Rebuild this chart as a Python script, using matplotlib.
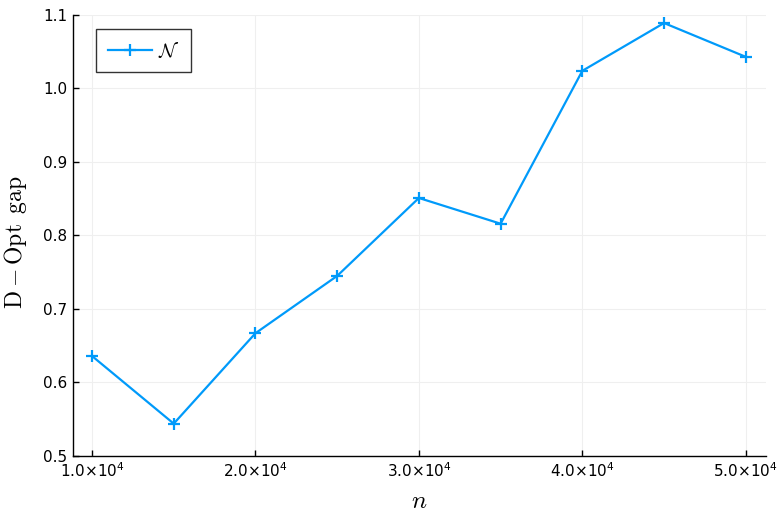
import matplotlib
matplotlib.use("Agg")
import matplotlib.pyplot as plt
import numpy as np

n_values = [10000, 15000, 20000, 25000, 30000, 35000, 40000, 45000, 50000]
gap_values = [0.636, 0.544, 0.667, 0.745, 0.851, 0.816, 1.024, 1.089, 1.043]
x_ticks = [10000, 20000, 30000, 40000, 50000]
x_tick_labels = [r"1.0$\times$10$^{4}$", r"2.0$\times$10$^{4}$", r"3.0$\times$10$^{4}$",
                 r"4.0$\times$10$^{4}$", r"5.0$\times$10$^{4}$"]
y_ticks = [0.5, 0.6, 0.7, 0.8, 0.9, 1.0, 1.1]

plt.rcParams['mathtext.fontset'] = 'dejavusans'
fig = plt.figure(figsize=(7.81, 5.21), dpi=100)
ax = fig.add_axes([0.0935, 0.1248, 0.887, 0.8465])

color = '#009AFA'
ax.plot(n_values, gap_values, color=color, lw=1.6, marker='+', ms=9, mew=1.6,
        label=r'$\mathcal{N}$')

ax.set_xlim(8838, 51223)
ax.set_ylim(0.5, 1.1)
ax.set_xticks(x_ticks)
ax.set_xticklabels(x_tick_labels)
ax.set_yticks(y_ticks)
ax.set_yticklabels([f"{v:.1f}" for v in y_ticks])
ax.tick_params(direction='in', length=4, width=1, labelsize=11, pad=4)

for s in ['top', 'right']:
    ax.spines[s].set_visible(False)
for s in ['left', 'bottom']:
    ax.spines[s].set_linewidth(1.0)

ax.grid(True, color='#efefef', lw=0.8)
ax.set_axisbelow(True)

ax.set_xlabel(r'$n$', fontsize=18, math_fontfamily='cm', labelpad=6)
ax.set_ylabel(r'$\mathrm{D-Opt\ \,gap}$', fontsize=17, math_fontfamily='cm')
ax.yaxis.set_label_coords(-0.064, 0.485)

leg = ax.legend(loc='upper left', fontsize=14, frameon=True, fancybox=False,
                edgecolor='black', borderpad=0.6, handlelength=2.3, handletextpad=0.3,
                borderaxespad=0, bbox_to_anchor=(0.033, 0.968))
leg.get_frame().set_linewidth(1.0)
for t in leg.get_texts():
    t.set_math_fontfamily('cm')

fig.savefig('out.png', dpi=100)
